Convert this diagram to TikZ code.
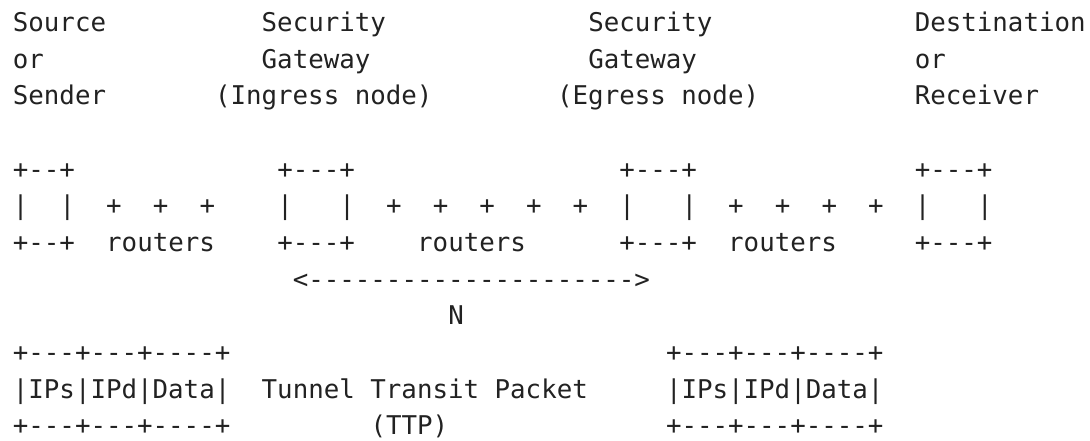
\documentclass[tikz,border=0pt]{standalone}
\usepackage{fontspec}
\newfontfamily\asciimono{DejaVu Sans Mono}[Ligatures=TeXOff]
\definecolor{inkc}{HTML}{222222}
\tikzset{
  txt/.style={anchor=base west, inner sep=0pt, outer sep=0pt, text=inkc,
    font=\asciimono\fontsize{25.8pt}{30pt}\selectfont}
}
% \T{name}{row}{col}{text}
\newcommand\T[4]{\node[txt] (#1) at ({(12.9+15.55*#3)*1pt},{-(31.5+36.68*#2)*1pt}) {#4};}
\begin{document}
\begin{tikzpicture}
\fill[white] (0,0) rectangle (1090pt,-441pt);
\useasboundingbox (0,0) rectangle (1090pt,-441pt);
% row 0
\T{src}{0}{0}{Source}
\T{sgA}{0}{16}{Security}
\T{sgB}{0}{37}{Security}
\T{dst}{0}{58}{Destination}
% row 1
\T{srcor}{1}{0}{or}
\T{gwA}{1}{16}{Gateway}
\T{gwB}{1}{37}{Gateway}
\T{dstor}{1}{58}{or}
% row 2
\T{snd}{2}{0}{Sender}
\T{ing}{2}{13}{(Ingress node)}
\T{egr}{2}{35}{(Egress node)}
\T{rcv}{2}{58}{Receiver}
% row 4 : box tops
\T{boxAt}{4}{0}{+--+}
\T{boxBt}{4}{17}{+---+}
\T{boxCt}{4}{39}{+---+}
\T{boxDt}{4}{58}{+---+}
% row 5 : box sides and router pluses
\T{boxAl}{5}{0}{|}
\T{boxAr}{5}{3}{|}
\T{rA1}{5}{6}{+}
\T{rA2}{5}{9}{+}
\T{rA3}{5}{12}{+}
\T{boxBl}{5}{17}{|}
\T{boxBr}{5}{21}{|}
\T{rB1}{5}{24}{+}
\T{rB2}{5}{27}{+}
\T{rB3}{5}{30}{+}
\T{rB4}{5}{33}{+}
\T{rB5}{5}{36}{+}
\T{boxCl}{5}{39}{|}
\T{boxCr}{5}{43}{|}
\T{rC1}{5}{46}{+}
\T{rC2}{5}{49}{+}
\T{rC3}{5}{52}{+}
\T{rC4}{5}{55}{+}
\T{boxDl}{5}{58}{|}
\T{boxDr}{5}{62}{|}
% row 6 : box bottoms and labels
\T{boxAb}{6}{0}{+--+}
\T{rtA}{6}{6}{routers}
\T{boxBb}{6}{17}{+---+}
\T{rtB}{6}{26}{routers}
\T{boxCb}{6}{39}{+---+}
\T{rtC}{6}{46}{routers}
\T{boxDb}{6}{58}{+---+}
% row 7 : arrow
\T{arr}{7}{18}{<--------------------->}
% row 8
\T{nlab}{8}{28}{N}
% rows 9-11 : packets
\T{pkAt}{9}{0}{+---+---+----+}
\T{pkBt}{9}{42}{+---+---+----+}
\T{pkAm}{10}{0}{|IPs|IPd|Data|}
\T{ttp}{10}{16}{Tunnel Transit Packet}
\T{pkBm}{10}{42}{|IPs|IPd|Data|}
\T{pkAb}{11}{0}{+---+---+----+}
\T{ttpab}{11}{23}{(TTP)}
\T{pkBb}{11}{42}{+---+---+----+}
\end{tikzpicture}
\end{document}
